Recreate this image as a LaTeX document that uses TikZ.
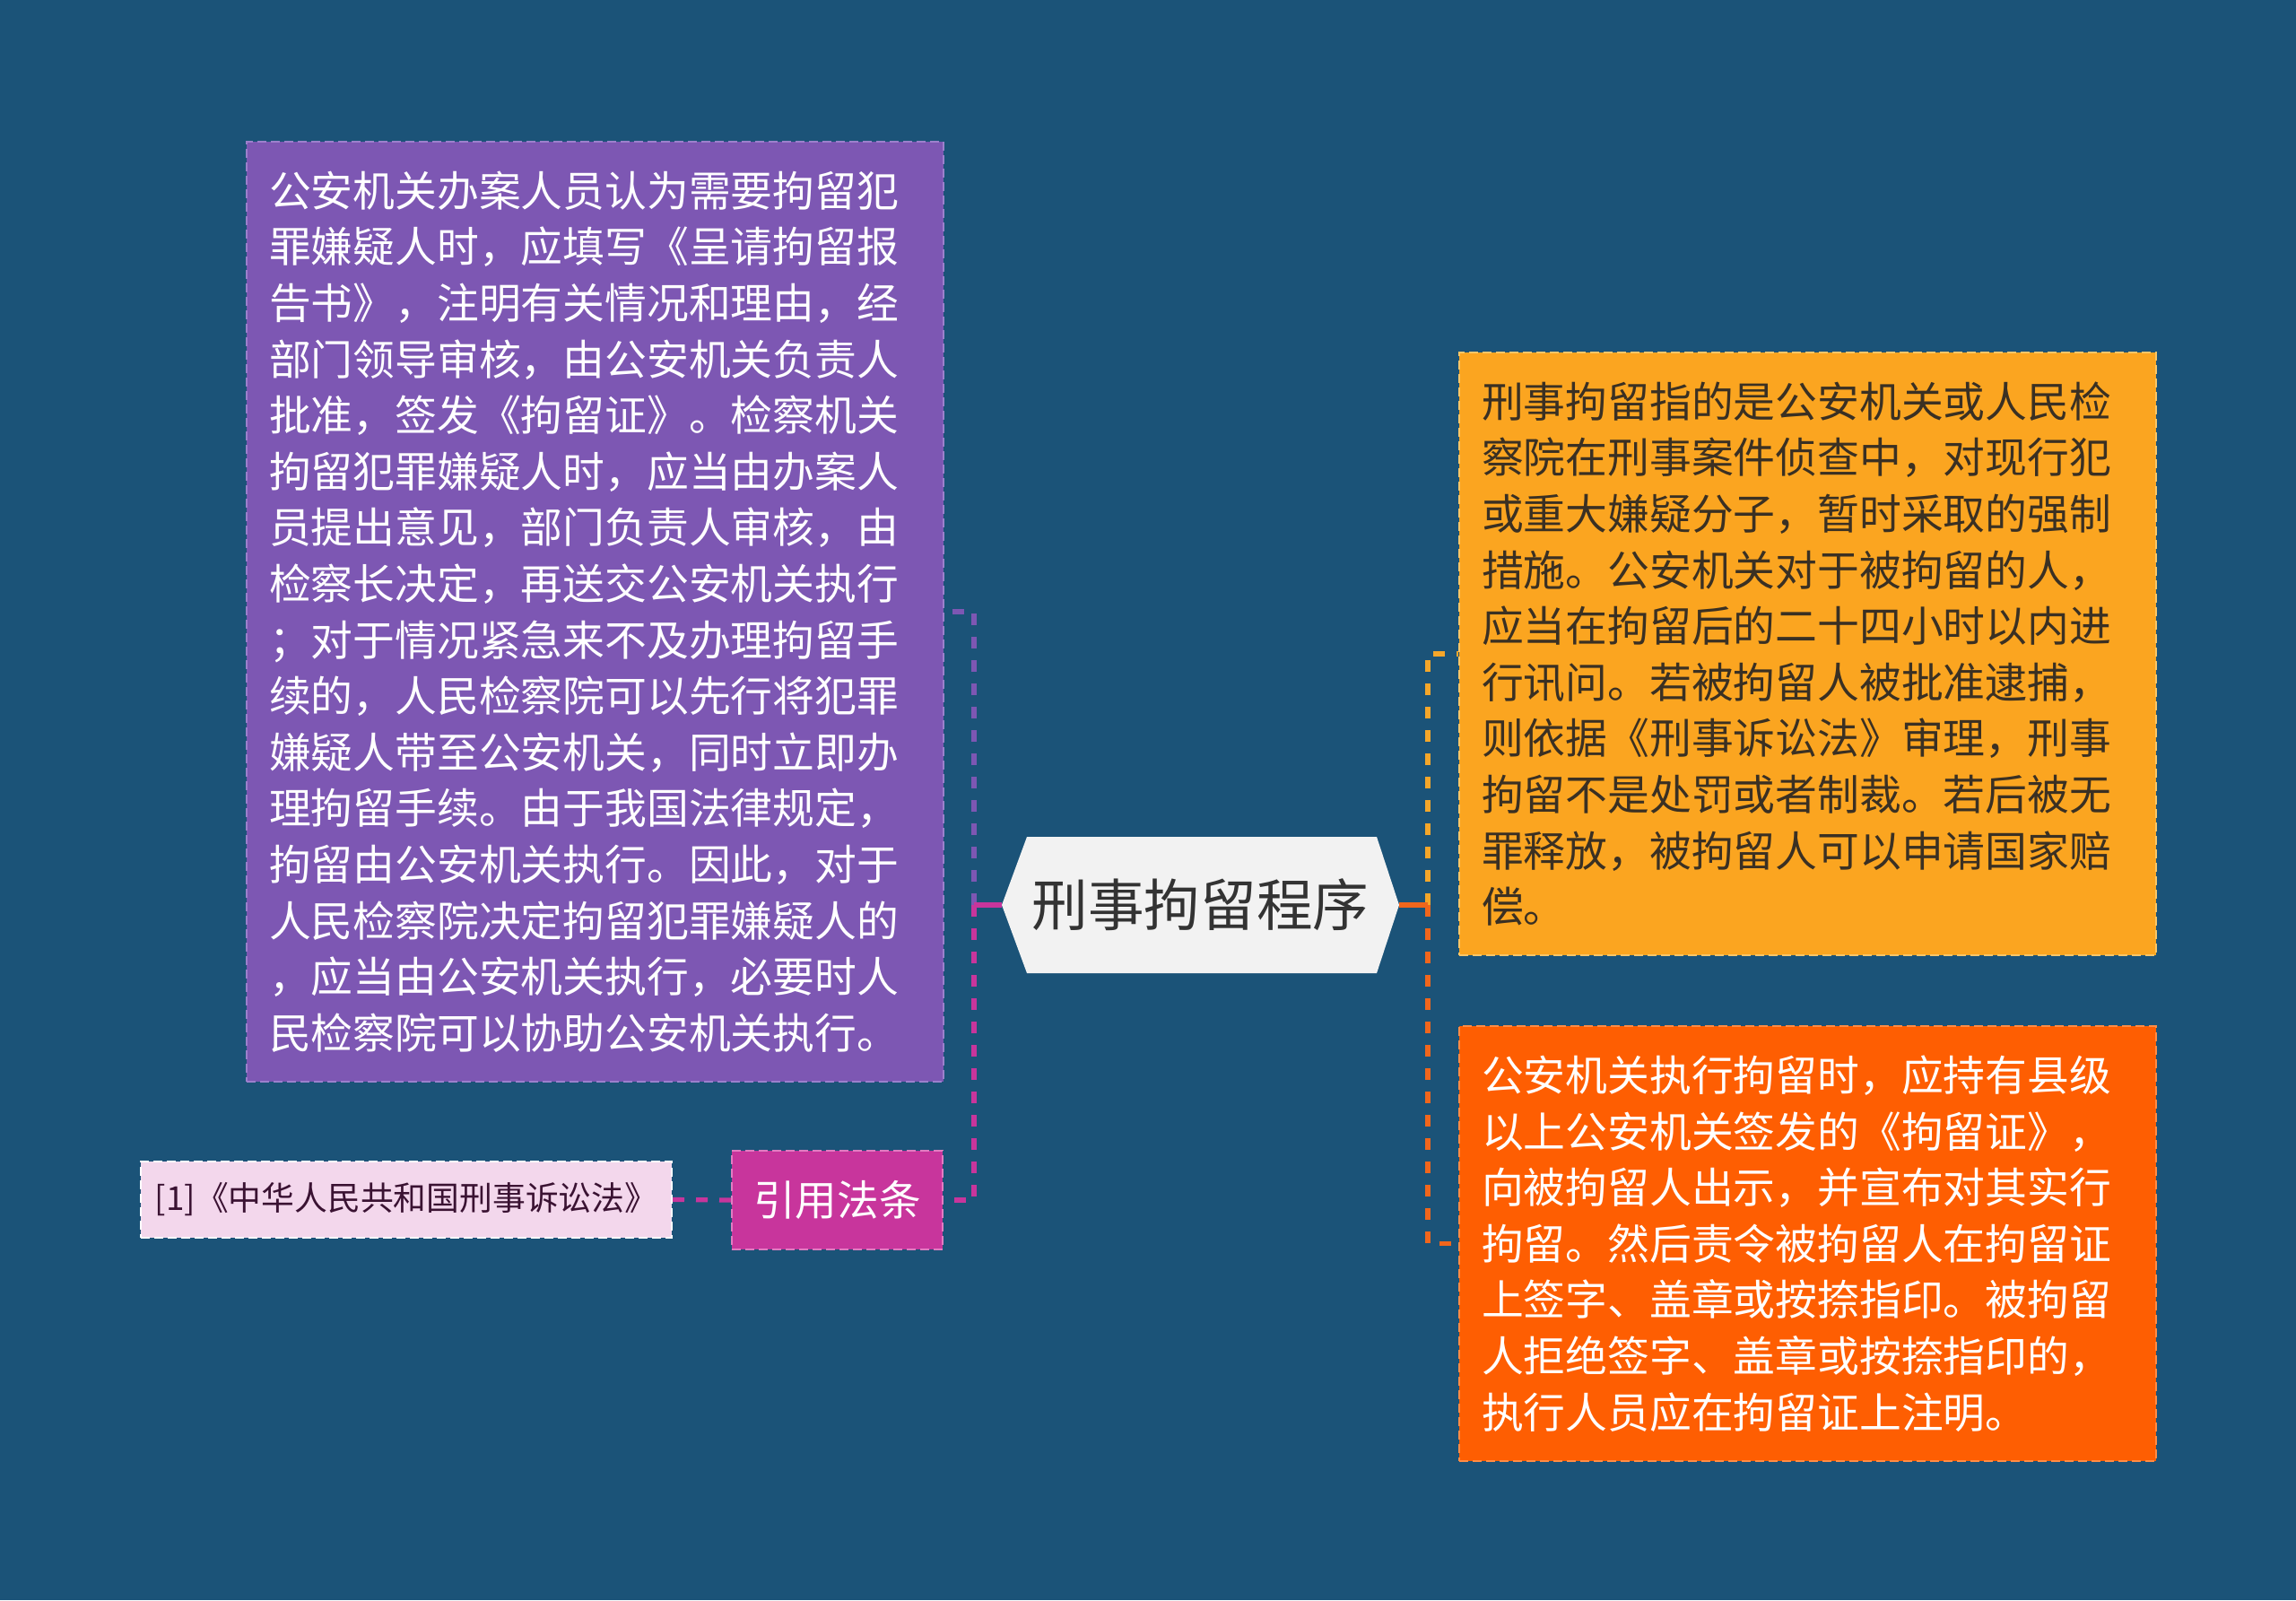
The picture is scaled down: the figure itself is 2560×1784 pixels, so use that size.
\documentclass[tikz,border=0pt]{standalone}
\usepackage{fontspec}
\setmainfont{Noto Sans CJK SC}
\pgfdeclarelayer{bg}
\pgfsetlayers{bg,main}
\definecolor{bgc}{HTML}{1B5378}
\definecolor{purp}{HTML}{7D57B3}
\definecolor{purpb}{HTML}{9C80CC}
\definecolor{gold}{HTML}{FBA520}
\definecolor{goldb}{HTML}{F8C668}
\definecolor{ored}{HTML}{FE5E02}
\definecolor{oredb}{HTML}{FF8C45}
\definecolor{mag}{HTML}{C8359C}
\definecolor{magb}{HTML}{E27BC2}
\definecolor{pinkc}{HTML}{F3D7EC}
\definecolor{hexc}{HTML}{F2F2F2}
\definecolor{darktxt}{HTML}{3A3023}
\definecolor{citetxt}{HTML}{3A1232}
\definecolor{linegold}{HTML}{F4A62A}
\definecolor{lineored}{HTML}{F0661C}
\tikzset{
  bigbox/.style={anchor=north west, minimum width=388.5pt, inner xsep=12.5pt, inner ysep=0pt,
    text width=363.5pt, align=left, line width=1pt, dash pattern=on 5pt off 2.5pt,
    font=\fontsize{23.4pt}{31.3pt}\selectfont},
  conn/.style={line width=2.6pt, dash pattern=on 6.5pt off 6.5pt},
  stub/.style={line width=2.6pt},
}
\begin{document}
\begin{tikzpicture}[x=0.5pt,y=-0.5pt]
\useasboundingbox (0,0) rectangle (2560,1784);
% boxes
\node[bigbox, fill=purp, draw=purpb, text=white, minimum height=524pt] (purple) at (274,157) {%
公安机关办案人员认为需要拘留犯\\
罪嫌疑人时，应填写《呈请拘留报\\
告书》，注明有关情况和理由，经\\
部门领导审核，由公安机关负责人\\
批准，签发《拘留证》。检察机关\\
拘留犯罪嫌疑人时，应当由办案人\\
员提出意见，部门负责人审核，由\\
检察长决定，再送交公安机关执行\\
；对于情况紧急来不及办理拘留手\\
续的，人民检察院可以先行将犯罪\\
嫌疑人带至公安机关，同时立即办\\
理拘留手续。由于我国法律规定，\\
拘留由公安机关执行。因此，对于\\
人民检察院决定拘留犯罪嫌疑人的\\
，应当由公安机关执行，必要时人\\
民检察院可以协助公安机关执行。};
\node[bigbox, fill=gold, draw=goldb, text=darktxt, minimum height=336pt] (goldbox) at (1626,392) {%
刑事拘留指的是公安机关或人民检\\
察院在刑事案件侦查中，对现行犯\\
或重大嫌疑分子，暂时采取的强制\\
措施。公安机关对于被拘留的人，\\
应当在拘留后的二十四小时以内进\\
行讯问。若被拘留人被批准逮捕，\\
则依据《刑事诉讼法》审理，刑事\\
拘留不是处罚或者制裁。若后被无\\
罪释放，被拘留人可以申请国家赔\\
偿。};
\node[bigbox, fill=ored, draw=oredb, text=white, minimum height=242.5pt] (oredbox) at (1626,1143) {%
公安机关执行拘留时，应持有县级\\
以上公安机关签发的《拘留证》，\\
向被拘留人出示，并宣布对其实行\\
拘留。然后责令被拘留人在拘留证\\
上签字、盖章或按捺指印。被拘留\\
人拒绝签字、盖章或按捺指印的，\\
执行人员应在拘留证上注明。};
\node[fill=mag, draw=magb, line width=1pt, dash pattern=on 5pt off 2.5pt, text=white,
  minimum width=117.5pt, minimum height=55pt, inner sep=0pt,
  font=\fontsize{23.3pt}{28pt}\selectfont] (law) at (933.5,1338) {引用法条};
\node[fill=pinkc, draw=white, line width=1pt, dash pattern=on 5pt off 2.5pt, text=citetxt,
  minimum width=296pt, minimum height=42.5pt, inner sep=0pt,
  font=\fontsize{18.4pt}{21pt}\selectfont] (cite) at (453,1337.5) {[1]《中华人民共和国刑事诉讼法》};
% center
\node[minimum width=221.5pt, minimum height=76pt, inner sep=0pt, text=black!80,
  font=\fontsize{31.3pt}{36pt}\selectfont] (center) at (1338.5,1009) {刑事拘留程序};
\coordinate (lj) at (1086,1009);
\coordinate (rj) at (1592,1009);
\begin{pgfonlayer}{bg}
\fill[bgc] (0,0) rectangle (2560,1784);
\fill[hexc] (1117,1009) -- (1145,933) -- (1535,933) -- (1560,1009) -- (1535,1085) -- (1145,1085) -- cycle;
\draw[conn, purp] (lj) |- (purple.east);
\draw[conn, mag] (lj) |- (law.east);
\draw[stub, mag] (center.west) -- (lj);
\draw[conn, mag] (cite.east) -- (law.west);
\draw[conn, linegold] (rj) |- (goldbox.west);
\draw[conn, lineored] (rj) |- (oredbox.west);
\draw[stub, lineored] (center.east) -- (rj);
\end{pgfonlayer}
\end{tikzpicture}
\end{document}
